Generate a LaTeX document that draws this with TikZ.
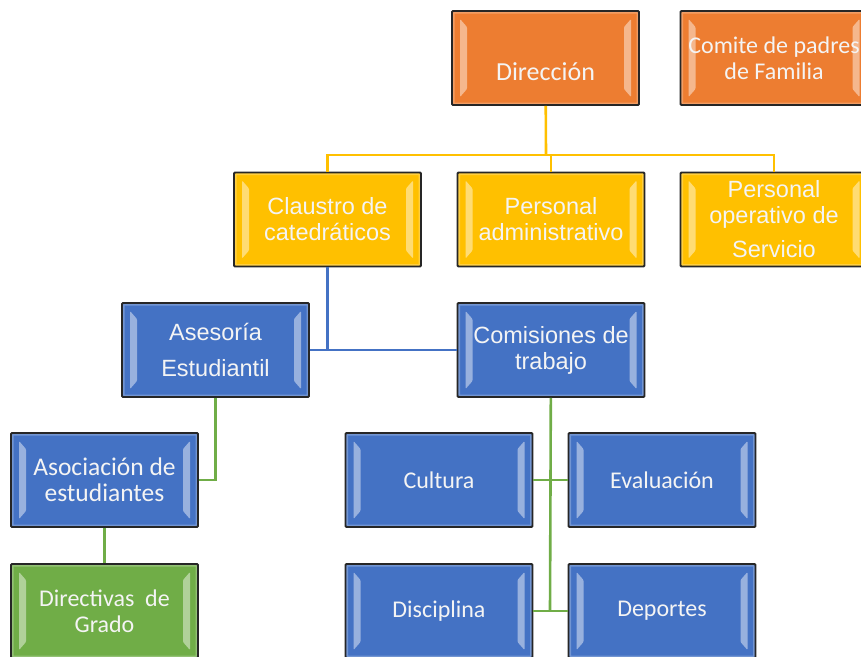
\documentclass[tikz,border=0pt]{standalone}
\usepackage{fontspec}
\setmainfont{Carlito}
\newfontfamily\arialf{Liberation Sans}
\usepackage{tikz}

\definecolor{naranja}{HTML}{ED7D31}
\definecolor{oro}{HTML}{FFC000}
\definecolor{azul}{HTML}{4472C4}
\definecolor{verde}{HTML}{70AD47}
\definecolor{blanco}{HTML}{F4F4F4}

\tikzset{bevel/.style={path picture={
	\fill[white,opacity=.45] ([xshift=8pt,yshift=-8pt]path picture bounding box.north west) -- ([xshift=15pt,yshift=-16pt]path picture bounding box.north west) -- ([xshift=15pt,yshift=16pt]path picture bounding box.south west) -- ([xshift=8pt,yshift=8pt]path picture bounding box.south west) -- cycle;
	\fill[white,opacity=.45] ([xshift=-8pt,yshift=-8pt]path picture bounding box.north east) -- ([xshift=-15pt,yshift=-16pt]path picture bounding box.north east) -- ([xshift=-15pt,yshift=16pt]path picture bounding box.south east) -- ([xshift=-8pt,yshift=8pt]path picture bounding box.south east) -- cycle;
	\draw[white,opacity=.25,line width=5pt] (path picture bounding box.north west) rectangle (path picture bounding box.south east);
}}}

\begin{document}
\begin{tikzpicture}[x=1pt,y=-1pt,
	box/.style = {draw=black!85, line width=1.8pt, rounded corners=1pt, bevel, minimum width=187pt, minimum height=94pt, inner sep=0pt, align=center, text=blanco, font=\fontsize{24}{26}\selectfont},
	arial/.style = {font=\arialf\fontsize{23.5}{26}\selectfont},
	lin/.style = {line width=2.6pt}]
	\clip (0,0) rectangle (861,656);
	\useasboundingbox (0,0) rectangle (861,656);

	\node[box, fill=naranja] (dir) at (545.5,58) {\raisebox{-22pt}[0pt][0pt]{\fontsize{26}{28}\selectfont Dirección}};
	\node[box, fill=naranja] (com) at (774,58) {Comite de padres\\de Familia};
	\node[box, fill=oro, arial] (cla) at (327.5,219.5) {Claustro de\\catedráticos};
	\node[box, fill=oro, arial] (adm) at (551,219.5) {Personal\\administrativo};
	\node[box, fill=oro, arial] (ope) at (774,219.5) {Personal\\operativo de\\[8pt]Servicio};
	\node[box, fill=azul, arial] (ase) at (215.5,350) {Asesoría\\[10pt]Estudiantil};
	\node[box, fill=azul, arial] (cmt) at (551,350) {Comisiones de\\trabajo};
	\node[box, fill=azul] (aso) at (104.5,480) {\fontsize{25.5}{26}\selectfont Asociación de\\\fontsize{25.5}{26}\selectfont estudiantes};
	\node[box, fill=azul] (cul) at (439,480) {Cultura};
	\node[box, fill=azul] (eva) at (662,480) {Evaluación};
	\node[box, fill=verde] (dgr) at (104.5,611) {Directivas\ \ de\\Grado};
	\node[box, fill=azul] (dis) at (439,611) {Disciplina};
	\node[box, fill=azul] (dep) at (662,611) {Deportes};

	\coordinate (j1) at (546,155);
	\coordinate (j2) at (327.5,351);
	\coordinate (j3) at (550,611);

	% direccion
	\draw[lin, oro] (dir) -- (j1);
	\draw[lin, oro] (j1) -| (cla);
	\draw[lin, oro] (j1) -| (adm);
	\draw[lin, oro] (j1) -| (ope);

	% claustro
	\draw[lin, azul] (cla) -- (j2);
	\draw[lin, azul] (ase) -- (cmt);

	% asesoria y comisiones
	\draw[lin, verde] (ase) |- (aso);
	\draw[lin, verde] (aso) -- (dgr);
	\draw[lin, verde] (cmt) -- (j3);
	\draw[lin, verde] (cul) -- (eva);
	\draw[lin, verde] (dis) -- (dep);
\end{tikzpicture}
\end{document}
